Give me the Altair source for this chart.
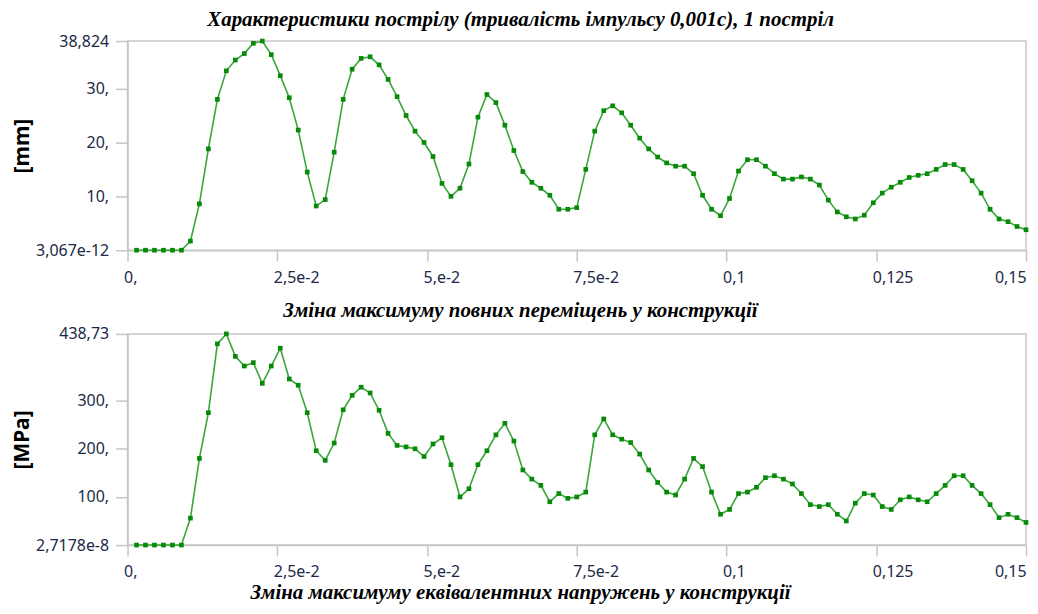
import altair as alt
import pandas as pd

# time samples (s)
t_step = 0.0015
n_pts = 100
times = [round(t_step * (i + 1), 4) for i in range(n_pts)]

# max total displacement [mm]
disp = [0, 0, 0, 0, 0, 0, 1.7, 8.6, 18.8, 28.0,
        33.3, 35.3, 36.5, 38.4, 38.824, 36.3, 32.4, 28.3, 22.3, 14.5,
        8.2, 9.4, 18.2, 28.0, 33.6, 35.6, 35.9, 34.4, 31.7, 28.5,
        25.0, 22.1, 20.0, 17.4, 12.4, 10.0, 11.5, 16.0, 24.7, 28.9,
        27.4, 23.2, 18.5, 14.6, 12.6, 11.5, 10.2, 7.6, 7.6, 7.9,
        15.0, 22.1, 25.9, 26.8, 25.5, 23.2, 20.8, 18.8, 17.3, 16.2,
        15.6, 15.6, 14.2, 10.2, 7.6, 6.4, 9.6, 14.7, 16.8, 16.8,
        15.6, 14.2, 13.2, 13.2, 13.6, 13.2, 12.1, 9.3, 7.1, 6.2,
        5.8, 6.5, 8.8, 10.6, 11.7, 12.6, 13.5, 13.9, 14.2, 15.0,
        15.9, 15.9, 15.0, 12.9, 10.6, 7.6, 5.8, 5.3, 4.4, 3.8]

# max equivalent stress [MPa]
stress = [0, 0, 0, 0, 0, 0, 56, 180, 275, 418,
          438.73, 392, 372, 379, 336, 372, 409, 345, 332, 275,
          196, 176, 212, 281, 311, 328, 316, 280, 232, 207,
          204, 200, 184, 210, 223, 167, 100, 117, 167, 196,
          229, 253, 216, 156, 137, 124, 90, 107, 97, 100,
          110, 229, 262, 229, 220, 213, 189, 156, 130, 110,
          104, 137, 180, 163, 110, 64, 74, 107, 110, 120,
          140, 144, 137, 127, 107, 84, 80, 84, 64, 50,
          87, 107, 104, 80, 74, 94, 100, 94, 90, 107,
          124, 144, 144, 124, 107, 84, 57, 64, 57, 47]

x_ticks = [0, 0.025, 0.05, 0.075, 0.1, 0.125, 0.15]
x_tick_labels = ["0,", "2,5e-2", "5,e-2", "7,5e-2", "0,1", "0,125", "0,15"]

disp_ticks = [0, 10, 20, 30, 38.824]
disp_tick_labels = ["3,067e-12", "10,", "20,", "30,", "38,824"]

stress_ticks = [0, 100, 200, 300, 438.73]
stress_tick_labels = ["2,7178e-8", "100,", "200,", "300,", "438,73"]

title_main = "Характеристики пострілу (тривалість імпульсу 0,001с), 1 постріл"
caption_top = "Зміна максимуму повних переміщень у конструкції"
caption_bottom = "Зміна максимуму еквівалентних напружень у конструкції"


def label_expr(vals, labels, tol):
    expr = "''"
    for v, lab in reversed(list(zip(vals, labels))):
        expr = f"abs(datum.value - {v}) < {tol} ? '{lab}' : " + expr
    return expr


LINE = "#3aa63a"
MARK = "#078a07"
GRAY = "#c6c6c6"
LABEL = "#1c2a48"
SANS = "Noto Sans"
SERIF = "Liberation Serif"
PLOT_W = 902


def panel(values, ticks, tick_labels, ytitle, caption, h, tol, lab_pad, cap_pad):
    df = pd.DataFrame({"t": times, "v": values})
    x_axis = alt.Axis(
        values=x_ticks,
        labelExpr=label_expr(x_ticks, x_tick_labels, 1e-6),
        labelAlign={"condition": {"test": "datum.value > 0.149", "value": "right"}, "value": "left"},
        labelOffset={"condition": {"test": "datum.value > 0.149", "value": 0}, "value": -4},
        grid=False, tickSize=11, labelPadding=lab_pad,
        domainColor=GRAY, tickColor=GRAY, tickWidth=1.5, domainWidth=1.5,
        labelFont=SANS, labelFontSize=16, labelColor=LABEL,
        title=caption, titleFont=SERIF, titleFontSize=21, titleFontStyle="italic",
        titleFontWeight="bold", titleColor="#000000", titlePadding=cap_pad,
        titleX=394, titleAlign="center",
    )
    y_axis = alt.Axis(
        values=ticks,
        labelExpr=label_expr(ticks, tick_labels, tol),
        grid=False, tickSize=12, labelPadding=7,
        domainColor=GRAY, tickColor=GRAY, tickWidth=1.5, domainWidth=1.5,
        labelFont=SANS, labelFontSize=16, labelColor=LABEL,
        title=ytitle, titleFont=SANS, titleFontSize=21, titleFontWeight="bold",
        titleColor="#000000", titlePadding=2, minExtent=93, maxExtent=93,
    )
    return alt.Chart(df).mark_line(
        color=LINE, strokeWidth=1.6,
        point=alt.OverlayMarkDef(shape="square", size=22, color=MARK, filled=True),
    ).encode(
        x=alt.X("t:Q", scale=alt.Scale(domain=[0, 0.15], nice=False), axis=x_axis),
        y=alt.Y("v:Q", scale=alt.Scale(domain=[0, max(ticks)], nice=False, zero=True), axis=y_axis),
    ).properties(width=PLOT_W, height=h)


top = panel(disp, disp_ticks, disp_tick_labels, "[mm]", caption_top, 210, 1e-3, 8, 15)
bottom = panel(stress, stress_ticks, stress_tick_labels, "[MPa]", caption_bottom, 212, 1e-2, 8, 2)

chart = alt.vconcat(top, bottom, spacing=3).properties(
    title=alt.TitleParams(
        title_main, font=SERIF, fontSize=21, fontStyle="italic", fontWeight="bold",
        color="#000000", anchor="middle", offset=2,
    ),
    padding={"left": 3, "top": 0, "right": 0, "bottom": 0},
).configure_view(stroke=GRAY, strokeWidth=1.5)

chart.save("out.html", embed_options={"renderer": "svg", "actions": False})
